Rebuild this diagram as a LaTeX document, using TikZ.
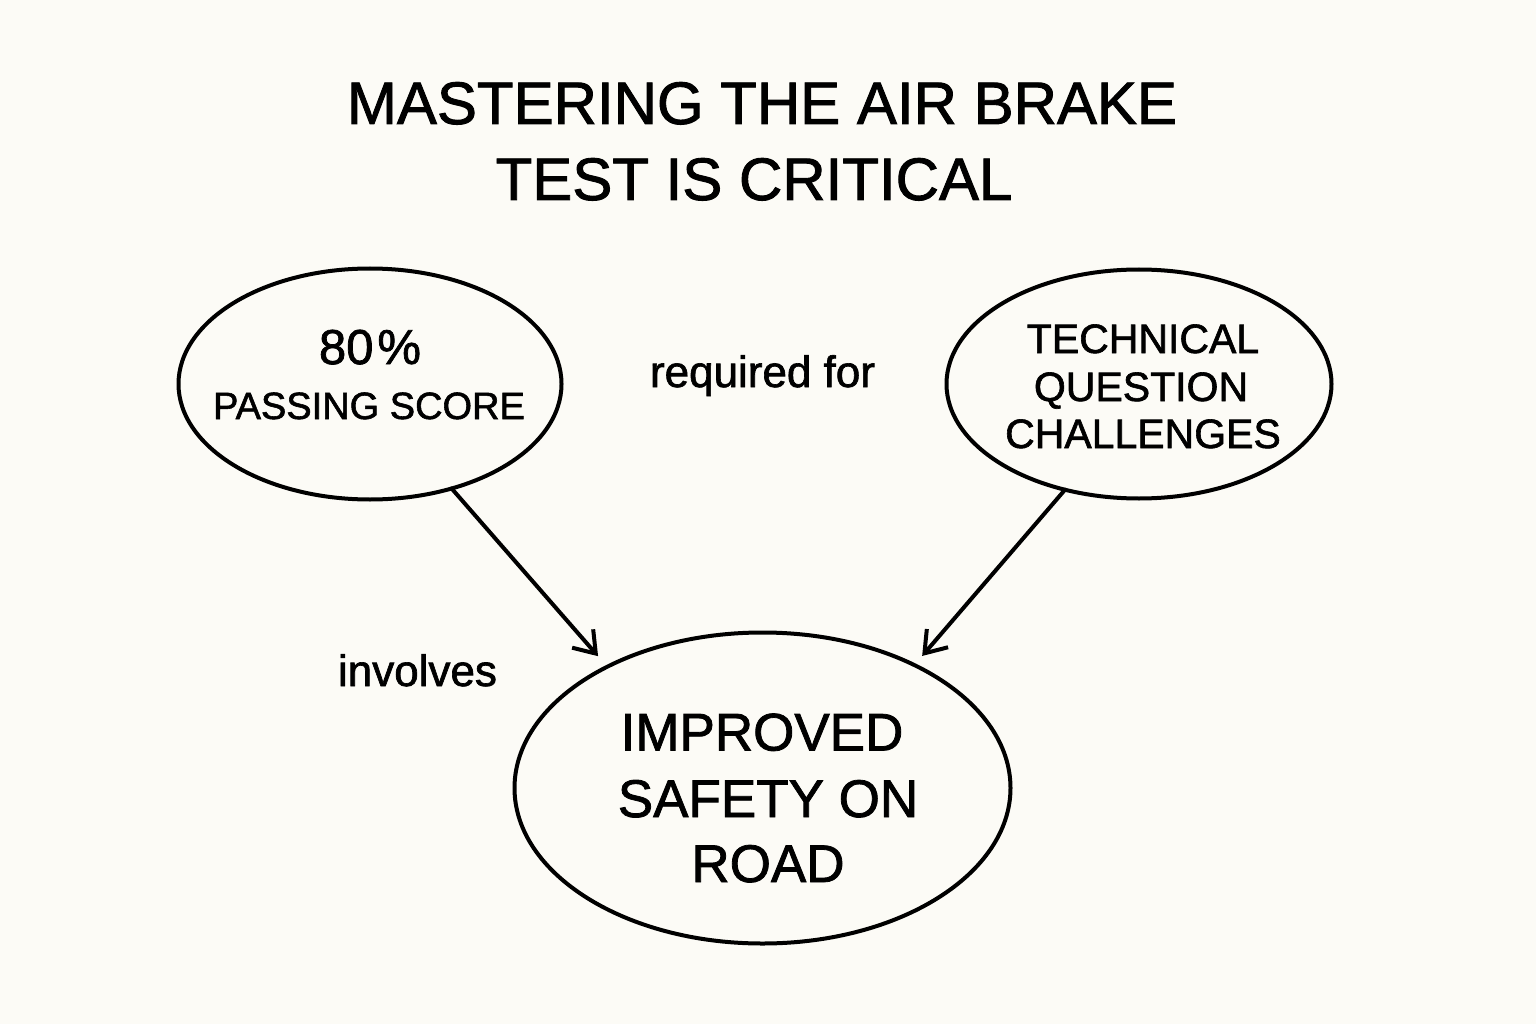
\documentclass[tikz,border=0pt]{standalone}
\usepackage{fontspec}
\setmainfont{Liberation Sans}
\newfontfamily\medfont[FakeBold=1.5]{Liberation Sans}
\usetikzlibrary{shapes.geometric,arrows.meta}
\definecolor{bg}{HTML}{FCFBF6}
\begin{document}
\begin{tikzpicture}[x=1pt,y=-1pt,
  bubble/.style={ellipse,draw=black,line width=4pt,inner sep=0pt,outer sep=0pt},
  txt/.style={anchor=base,inner sep=0pt,outer sep=0pt,text=black},
  titlefont/.style={font=\fontsize{60pt}{72pt}\medfont},
  conn/.style={line width=4pt,line cap=round,-{Straight Barb[length=20pt,width=28pt]}}
]
\fill[bg] (0,0) rectangle (1536,1024);
\useasboundingbox (0,0) rectangle (1536,1024);

% title
\node[txt,titlefont] (title1) at (762,124) {MASTERING THE AIR BRAKE};
\node[txt,titlefont] (title2) at (754,200) {TEST IS CRITICAL};

% ellipses
\node[bubble,minimum width=383pt,minimum height=231pt] (e1) at (370,384) {};
\node[bubble,minimum width=385pt,minimum height=229pt] (e2) at (1139,384) {};
\node[bubble,minimum width=496pt,minimum height=311pt] (e3) at (762.5,788) {};

% texts in ellipse 1
\node[txt,font=\fontsize{49pt}{58pt}\medfont] (p1) at (370,364) {80\kern4pt\%};
\node[txt,font=\fontsize{38pt}{46pt}\medfont] (p2) at (369,419) {PASSING SCORE};

% texts in ellipse 2
\node[txt,font=\fontsize{41pt}{48pt}\medfont] (q1) at (1143,353) {TECHNICAL};
\node[txt,font=\fontsize{41pt}{48pt}\medfont] (q2) at (1141,401) {QUESTION};
\node[txt,font=\fontsize{41pt}{48pt}\medfont] (q3) at (1143,448) {CHALLENGES};

% texts in ellipse 3
\node[txt,font=\fontsize{53pt}{66pt}\medfont] (r1) at (762,750.5) {IMPROVED};
\node[txt,font=\fontsize{53pt}{66pt}\medfont] (r2) at (768,817) {SAFETY ON};
\node[txt,font=\fontsize{53pt}{66pt}\medfont] (r3) at (768,882) {ROAD};

% free labels
\node[txt,anchor=base west,font=\fontsize{44pt}{52pt}\medfont] (lreq) at (650,387) {required for};
\node[txt,anchor=base west,font=\fontsize{44pt}{52pt}\medfont] (linv) at (338,686) {involves};

% connectors
\draw[conn,shorten >=14pt] (e1.-52.2) -- (e3.142.4);
\draw[conn,shorten >=12pt] (e2.235.7) -- (e3.39.1);
\end{tikzpicture}
\end{document}
